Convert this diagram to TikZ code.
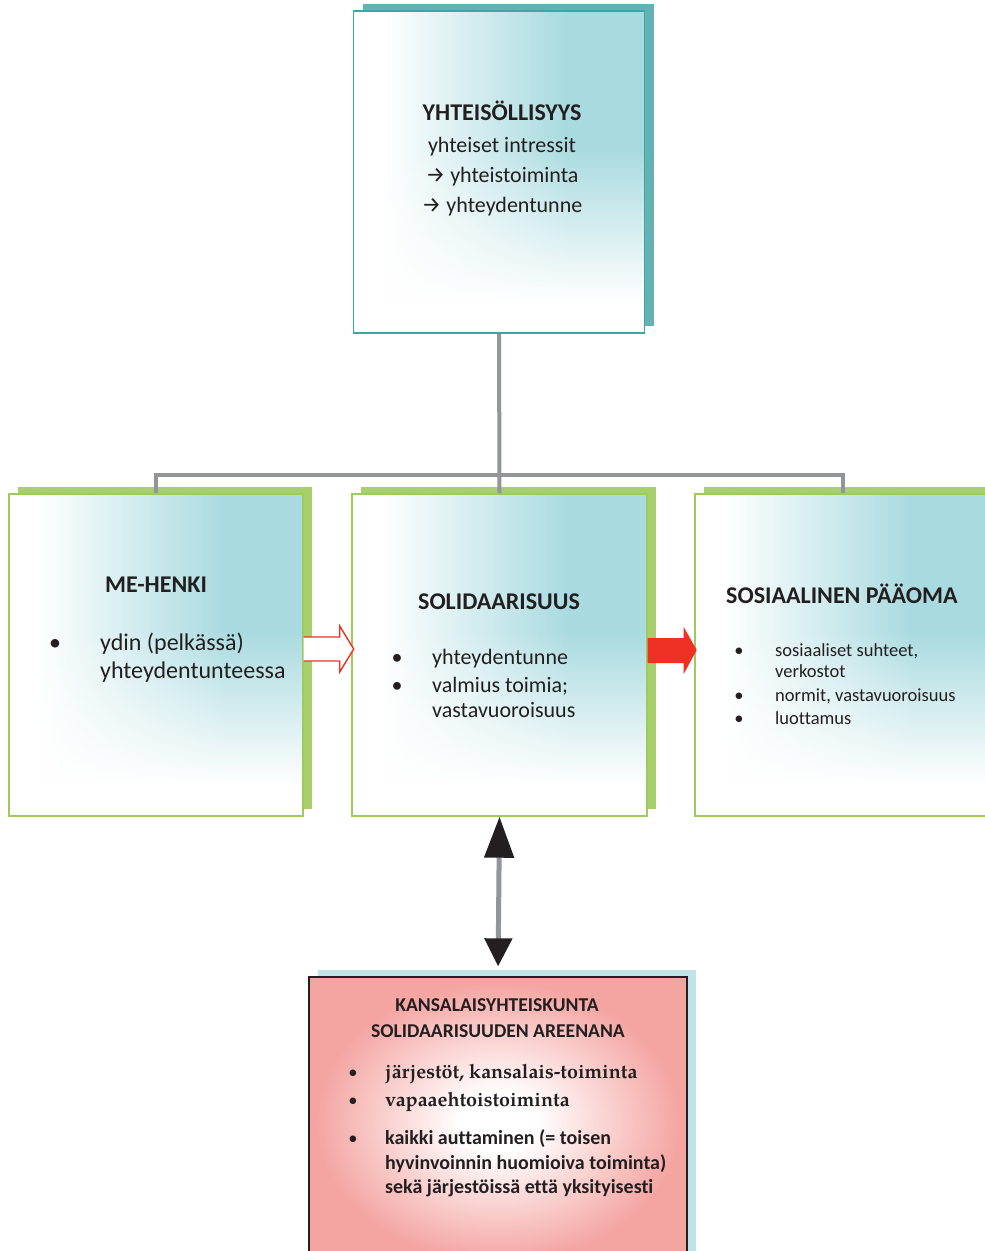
\documentclass[tikz,border=0pt]{standalone}
\usepackage{fontspec}
\setmainfont{Carlito}[Ligatures={NoCommon}]
\newfontfamily\fira{Fira Sans}
\newfontfamily\pal{texgyrepagella}[Extension=.otf, UprightFont=*-regular, BoldFont=*-bold]
\usetikzlibrary{arrows.meta,calc,fadings,shadows}

\definecolor{txt}{HTML}{231F20}
\definecolor{tealsh}{HTML}{64B2B3}
\definecolor{tealbd}{HTML}{35A8A8}
\definecolor{tealfill}{HTML}{A8DADF}
\definecolor{grnsh}{HTML}{A7D06C}
\definecolor{grnbd}{HTML}{9CCB5E}
\definecolor{connc}{HTML}{939598}
\definecolor{redar}{HTML}{EE3124}
\definecolor{pinkf}{HTML}{F4A5A2}
\definecolor{bluesh}{HTML}{BFE3E6}

\pgfdeclarehorizontalshading{tealh}{100bp}{color(0bp)=(white); color(25bp)=(white); color(30bp)=(white); color(62bp)=(tealfill); color(75bp)=(tealfill); color(100bp)=(tealfill)}
\pgfdeclareradialshading{pinkr}{\pgfpoint{0bp}{0bp}}{color(0bp)=(white); color(5bp)=(white); color(24bp)=(pinkf); color(50bp)=(pinkf)}
\tikzfading[name=fadeup, top color=transparent!100, bottom color=transparent!0]

\tikzset{
  gradbox/.style n args={3}{rectangle, draw=#1, line width=#3, inner sep=0pt,
    drop shadow={shadow xshift=9pt, shadow yshift=7pt, fill=#2, opacity=1},
    path picture={
      \shade[shading=tealh] (path picture bounding box.south west) rectangle (path picture bounding box.north east);
      \fill[white, path fading=fadeup] ($(path picture bounding box.south west)!0.58!(path picture bounding box.north west)$) rectangle ($(path picture bounding box.south east)!0.1!(path picture bounding box.north east)$);
      \fill[white] (path picture bounding box.south west) rectangle ($(path picture bounding box.south east)!0.1!(path picture bounding box.north east)$);
    }},
  pinkbox/.style={rectangle, draw=txt, line width=1.3pt, inner sep=0pt, shading=pinkr,
    drop shadow={shadow xshift=9pt, shadow yshift=7pt, fill=bluesh, opacity=1}},
  connl/.style={draw=connc, line width=4pt, line join=miter},
  lbl/.style={anchor=base, inner sep=0pt, text=txt, font=\fontsize{24}{28}\selectfont},
  lblw/.style={lbl, anchor=base west},
  mdl/.style={lbl, font=\fontsize{22}{26}\selectfont},
  mdlw/.style={mdl, anchor=base west},
  ttl/.style={lbl, font=\fontsize{24}{28}\selectfont\bfseries},
  sml/.style={lbl, font=\fontsize{18.5}{22}\selectfont},
  smlw/.style={sml, anchor=base west},
  btl/.style={lbl, font=\fontsize{19.6}{23}\selectfont\bfseries},
  bsw/.style={lbl, anchor=base west, font=\fontsize{20}{24}\selectfont\bfseries},
  bpw/.style={lbl, anchor=base west, font=\fontsize{19.8}{24}\selectfont\pal\bfseries},
}
\newcommand\rarr{{\fira\fontsize{22}{26}\selectfont →}}

\begin{document}
\begin{tikzpicture}[x=1pt, y=-1pt]
\useasboundingbox (0,0) rectangle (985,1251);
\clip (0,0) rectangle (985,1251);
\fill[white] (0,0) rectangle (985,1251);

% boxes
\node[gradbox={tealbd}{tealsh}{1.6pt}, minimum width=291pt, minimum height=322pt] (top) at (499,172) {};
\node[gradbox={grnbd}{grnsh}{1.4pt}, minimum width=294pt, minimum height=322pt] (lft) at (156,655) {};
\node[gradbox={grnbd}{grnsh}{1.4pt}, minimum width=295pt, minimum height=322pt] (mid) at (499.5,655) {};
\node[gradbox={grnbd}{grnsh}{1.4pt}, minimum width=295pt, minimum height=322pt] (rgt) at (842.5,655) {};
\node[pinkbox, minimum width=378pt, minimum height=290pt] (bot) at (498,1122) {};

% connectors
\coordinate (bar) at (499,475);
\draw[connl] (top.south) -- (mid.north);
\draw[connl] (lft.north) |- (bar) -| (rgt.north);

% hollow arrow
\fill[white] ($(lft.east)+(0,-18)$) -- ++(36,0) -- ++(0,-11) -- ++(14,23) -- ++(-14,23) -- ++(0,-11) -- ++(-36,0) -- cycle;
\draw[redar, line width=1.4pt, line join=miter] ($(lft.east)+(0,-18)$) -- ++(36,0) -- ++(0,-11) -- ++(14,23) -- ++(-14,23) -- ++(0,-11) -- ++(-36,0);

% filled arrow
\fill[redar] ($(mid.east)+(0,-17)$) -- ++(36,0) -- ++(0,-11) -- ++(13,23) -- ++(-13,24) -- ++(0,-11) -- ++(-36,0) -- cycle;

% double arrow
\draw[connc, line width=5pt, {Triangle[length=41pt,width=29pt,color=txt]}-{Triangle[length=28pt,width=27pt,color=txt]}, shorten >=10pt] (mid.south) -- (bot.north);

% top texts
\node[ttl] (t0) at (502,120) {YHTEISÖLLISYYS};
\node[mdl] (t1) at (502,152) {yhteiset intressit};
\node[mdl] (t2) at (502,182) {\rarr{} yhteistoiminta};
\node[mdl] (t3) at (502,212) {\rarr{} yhteydentunne};

% left texts
\node[ttl] (l0) at (156,592) {ME-HENKI};
\node[lbl] (lb1) at (55,650) {•};
\node[lblw] (l1) at (100,650) {ydin (pelkässä)};
\node[lblw] (l2) at (100,678) {yhteydentunteessa};

% middle texts
\node[ttl] (m0) at (499,609) {SOLIDAARISUUS};
\node[mdl] (mb1) at (397,664) {•};
\node[mdl] (mb2) at (397,692) {•};
\node[mdlw] (m1) at (432,664) {yhteydentunne};
\node[mdlw] (m2) at (432,692) {valmius toimia;};
\node[mdlw] (m3) at (432,717) {vastavuoroisuus};

% right texts
\node[ttl, anchor=base west] (r0) at (726,603) {SOSIAALINEN PÄÄOMA};
\node[sml] (rb1) at (739,656) {•};
\node[sml] (rb2) at (739,701) {•};
\node[sml] (rb3) at (739,724) {•};
\node[smlw] (r1) at (775,656) {sosiaaliset suhteet,};
\node[smlw] (r2) at (775,677) {verkostot};
\node[smlw] (r3) at (775,701) {normit, vastavuoroisuus};
\node[smlw] (r4) at (775,724) {luottamus};

% bottom texts
\node[btl] (b0) at (497,1011) {KANSALAISYHTEISKUNTA};
\node[btl] (b1) at (498,1037) {SOLIDAARISUUDEN AREENANA};
\node[sml] (bb1) at (353,1078) {•};
\node[sml] (bb2) at (353,1106) {•};
\node[sml] (bb3) at (353,1144) {•};
\node[bpw] (b2) at (385,1078) {järjestöt, kansalais-toiminta};
\node[bpw] (b3) at (385,1106) {vapaaehtoistoiminta};
\node[bsw] (b4) at (385,1144) {kaikki auttaminen (= toisen};
\node[bsw] (b5) at (385,1169) {hyvinvoinnin huomioiva toiminta)};
\node[bsw] (b6) at (385,1193) {sekä järjestöissä että yksityisesti};
\end{tikzpicture}
\end{document}
